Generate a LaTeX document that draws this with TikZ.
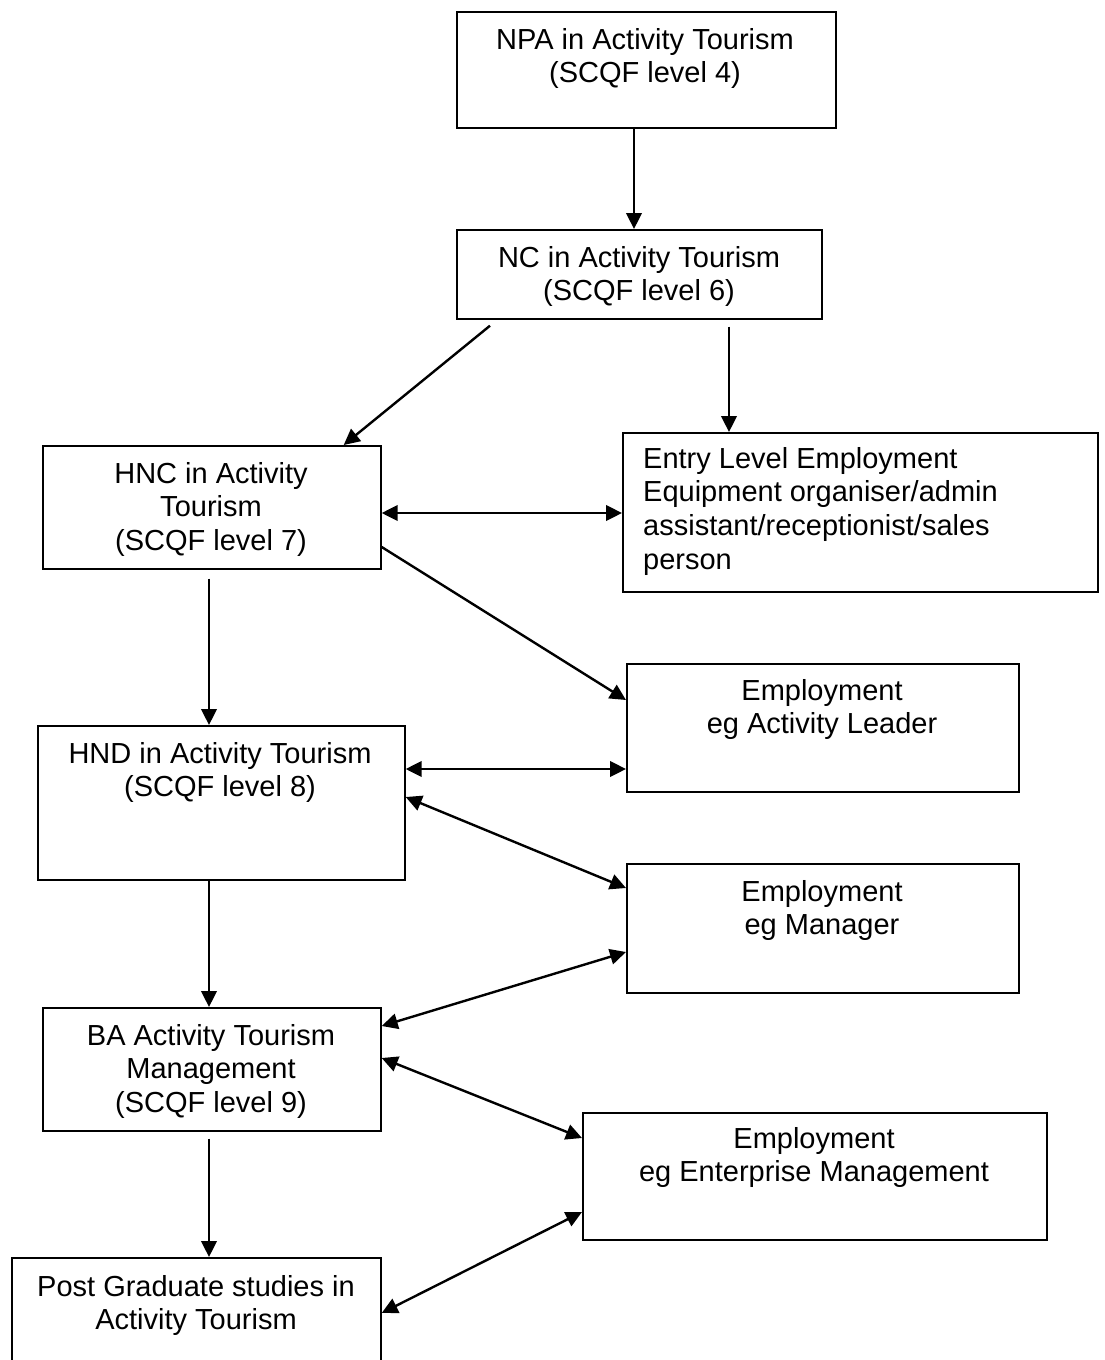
\documentclass[tikz,border=0pt]{standalone}
\usepackage{fontspec}
\setmainfont{Liberation Sans}
\usetikzlibrary{arrows.meta,calc}
\begin{document}
\begin{tikzpicture}[x=1pt,y=-1pt,
  box/.style={draw, line width=1.7pt, rectangle, inner sep=0pt, anchor=north west},
  txt/.style={anchor=base, inner sep=0pt, font=\fontsize{29}{33.7}\selectfont},
  arr/.style={line width=2.4pt, -{Triangle[length=16pt,width=15.5pt]}},
  darr/.style={line width=2.4pt, {Triangle[length=16pt,width=15.5pt]}-{Triangle[length=16pt,width=15.5pt]}}]
\useasboundingbox (0,0) rectangle (1104,1360);
\fill[white] (0,0) rectangle (1104,1360);
% boxes
\node[box, minimum width=379pt, minimum height=116pt] (npa) at (456,11) {};
\node[box, minimum width=365pt, minimum height=89pt] (nc) at (456,229) {};
\node[box, minimum width=338pt, minimum height=123pt] (hnc) at (42,445) {};
\node[box, minimum width=475pt, minimum height=159pt] (entry) at (622,432) {};
\node[box, minimum width=392pt, minimum height=128pt] (lead) at (626,663) {};
\node[box, minimum width=367pt, minimum height=154pt] (hnd) at (37,725) {};
\node[box, minimum width=392pt, minimum height=129pt] (mgr) at (626,863) {};
\node[box, minimum width=338pt, minimum height=123pt] (ba) at (42,1007) {};
\node[box, minimum width=464pt, minimum height=127pt] (ent) at (582,1112) {};
\node[box, minimum width=369pt, minimum height=130pt] (post) at (11,1257) {};
% texts
\node[txt] (npaT) at (645,49) {\begin{tabular}[t]{@{}c@{}}NPA in Activity Tourism\\(SCQF level 4)\end{tabular}};
\node[txt] (ncT) at (639,267) {\begin{tabular}[t]{@{}c@{}}NC in Activity Tourism\\(SCQF level 6)\end{tabular}};
\node[txt] (hncT) at (211,483) {\begin{tabular}[t]{@{}c@{}}HNC in Activity\\Tourism\\(SCQF level 7)\end{tabular}};
\node[txt, anchor=base west] (entryT) at (643,468) {\begin{tabular}[t]{@{}l@{}}Entry Level Employment\\Equipment organiser/admin\\assistant/receptionist/sales\\person\end{tabular}};
\node[txt] (leadT) at (822,700) {\begin{tabular}[t]{@{}c@{}}Employment\\eg Activity Leader\end{tabular}};
\node[txt] (hndT) at (220,763) {\begin{tabular}[t]{@{}c@{}}HND in Activity Tourism\\(SCQF level 8)\end{tabular}};
\node[txt] (mgrT) at (822,901) {\begin{tabular}[t]{@{}c@{}}Employment\\eg Manager\end{tabular}};
\node[txt] (baT) at (211,1045) {\begin{tabular}[t]{@{}c@{}}BA Activity Tourism\\Management\\(SCQF level 9)\end{tabular}};
\node[txt] (entT) at (814,1148) {\begin{tabular}[t]{@{}c@{}}Employment\\eg Enterprise Management\end{tabular}};
\node[txt] (postT) at (196,1296) {\begin{tabular}[t]{@{}c@{}}Post Graduate studies in\\Activity Tourism\end{tabular}};
% connectors
\draw[arr] ($(npa.south west)+(178,0)$) -- ($(nc.north west)+(178,0)$);
\draw[arr] ($(nc.south west)+(34,6)$) -- ($(hnc.north east)+(-38,0)$);
\draw[arr] ($(nc.south west)+(273,7)$) -- ($(entry.north west)+(107,0)$);
\draw[darr] ($(hnc.north east)+(0,68)$) -- ($(entry.north west)+(0,81)$);
\draw[arr] ($(hnc.north east)+(0,102)$) -- ($(lead.north west)+(0,37)$);
\draw[arr] ($(hnc.south west)+(167,9)$) -- ($(hnd.north west)+(172,0)$);
\draw[darr] ($(hnd.north east)+(0,44)$) -- ($(lead.north west)+(0,106)$);
\draw[darr] ($(hnd.north east)+(0,72)$) -- ($(mgr.north west)+(0,25)$);
\draw[arr] ($(hnd.south west)+(172,0)$) -- ($(ba.north west)+(167,0)$);
\draw[darr] ($(mgr.north west)+(0,89)$) -- ($(ba.north east)+(0,19)$);
\draw[darr] ($(ba.north east)+(0,51)$) -- ($(ent.north west)+(0,26)$);
\draw[arr] ($(ba.south west)+(167,7)$) -- ($(post.north west)+(198,0)$);
\draw[darr] ($(post.north east)+(0,56)$) -- ($(ent.north west)+(0,100)$);
\end{tikzpicture}
\end{document}
